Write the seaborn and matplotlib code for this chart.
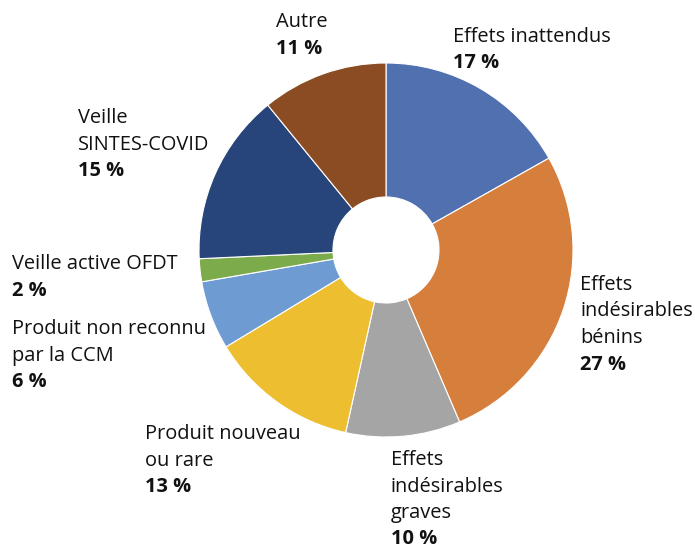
import matplotlib
matplotlib.use("Agg")
import matplotlib.pyplot as plt
import seaborn as sns

# slice data, clockwise from 12 o'clock
labels = [
    "Effets inattendus",
    "Effets\nindésirables\nbénins",
    "Effets\nindésirables\ngraves",
    "Produit nouveau\nou rare",
    "Produit non reconnu\npar la CCM",
    "Veille active OFDT",
    "Veille\nSINTES-COVID",
    "Autre",
]
values = [17, 27, 10, 13, 6, 2, 15, 11]
colors = ["#5070B0", "#D67E3B", "#A5A5A5", "#EDBE30",
          "#6E9BD1", "#7CAB4B", "#27457A", "#8B4B23"]

# label anchors (left x, y of first line center) in pixels from top-left
label_pos = [(453, 37), (580, 285), (391, 460), (145, 434),
             (12, 329), (12, 264), (78, 118), (276, 22)]

sns.set_theme(style="white")
plt.rcParams["font.family"] = ["Open Sans", "DejaVu Sans"]

W, H = 695, 549
fig = plt.figure(figsize=(W / 100, H / 100), dpi=100)
ax = fig.add_axes([0, 0, 1, 1])

cx, cy, r, hole = 386, H - 250, 187, 53
ax.pie(values, colors=colors, startangle=90, counterclock=False,
       center=(cx, cy), radius=r, frame=True,
       wedgeprops=dict(width=r - hole, edgecolor="white", linewidth=0.8))
ax.set_xlim(0, W)
ax.set_ylim(0, H)
ax.axis("off")

step = 26.5
fs = 14.4
for lab, val, (x, y) in zip(labels, values, label_pos):
    lines = lab.split("\n")
    for i, line in enumerate(lines):
        ax.text(x, H - (y + i * step), line, ha="left", va="center",
                fontsize=fs, color="#111111")
    ax.text(x, H - (y + len(lines) * step), f"{val} %", ha="left",
            va="center", fontsize=fs, fontweight="bold", color="#111111")

fig.savefig("out.png", dpi=100, facecolor="white")
